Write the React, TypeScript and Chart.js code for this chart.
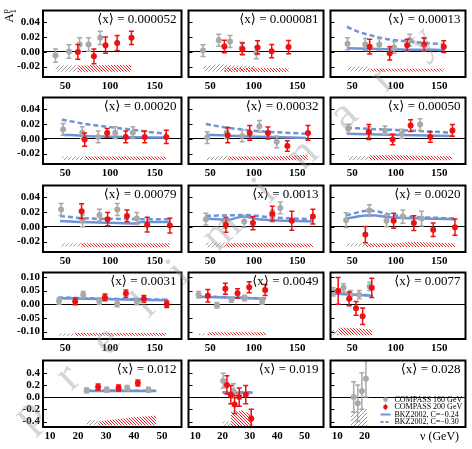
import React, { useEffect, useRef } from "react";
import { Chart, registerables } from "chart.js";
Chart.register(...registerables);

type P3 = [number, number, number];
type P2 = [number, number];

// ---- tick labels ----
const Y_TICKS_A = [-0.02, 0, 0.02, 0.04];
const Y_TICKS_B = [-0.1, -0.05, 0, 0.05, 0.1];
const Y_TICKS_C = [-0.4, -0.2, 0, 0.2, 0.4];
const X_TICKS_NU = [50, 100, 150];
const X_TICKS_LOW = [10, 20, 30, 40, 50];
const X_TICKS_LAST = [10, 20];

const PANEL_X = [
  "0.000052", "0.000081", "0.00013",
  "0.00020", "0.00032", "0.00050",
  "0.00079", "0.0013", "0.0020",
  "0.0031", "0.0049", "0.0077",
  "0.012", "0.019", "0.028",
];

// ---- data: [nu, A1, err] ; lines [nu, A1] ; bands [nu, lo, hi] ----
const p1Gray: P3[] = [[39, -0.005, 0.009], [54, 0.0005, 0.009], [66, 0.010, 0.009], [76, 0.010, 0.009], [89, 0.019, 0.009]];
const p1Red: P3[] = [[64, 0.000, 0.010], [82, -0.006, 0.010], [95, 0.009, 0.011], [108, 0.012, 0.010], [124, 0.019, 0.009]];
const p1Solid: P2[] = [];
const p1Dash: P2[] = [];
const p1GrayBand: P3[] = [[39, -0.027, -0.018], [64, -0.027, -0.018]];
const p1RedBand: P3[] = [[64, -0.027, -0.0185], [90, -0.027, -0.018], [124, -0.027, -0.0175]];

const p2Gray: P3[] = [[41.7, 0.0017, 0.008], [59.7, 0.0157, 0.008], [72.7, 0.014, 0.008], [86, 0.005, 0.008], [102.9, -0.0013, 0.008]];
const p2Red: P3[] = [[66.2, 0.0074, 0.0085], [87, 0.004, 0.008], [104.3, 0.006, 0.009], [120.5, 0.001, 0.009], [139.9, 0.0065, 0.009]];
const p2Solid: P2[] = [];
const p2Dash: P2[] = [];
const p2GrayBand: P3[] = [[42, -0.0265, -0.0195], [52, -0.0265, -0.018], [60, -0.0265, -0.0165], [75, -0.0265, -0.018], [102, -0.0265, -0.019]];
const p2RedBand: P3[] = [[66, -0.0272, -0.0215], [100, -0.0272, -0.0215], [140, -0.0272, -0.022]];

const p3Gray: P3[] = [[44.5, 0.011, 0.008], [65, 0.010, 0.008], [81, 0.010, 0.008], [98, 0.006, 0.008], [116, 0.016, 0.008], [132.5, 0.010, 0.008]];
const p3Red: P3[] = [[70, 0.007, 0.010], [93, -0.002, 0.009], [113, 0.009, 0.008], [132.5, 0.010, 0.009], [155, 0.007, 0.008]];
const p3Solid: P2[] = [[44, 0.0048], [80, 0.0038], [120, 0.003], [155, 0.0026]];
const p3Dash: P2[] = [[44, 0.034], [55, 0.028], [67.5, 0.0235], [86, 0.018], [115, 0.014], [135, 0.012], [155, 0.0104]];
const p3GrayBand: P3[] = [[44.5, -0.0265, -0.020], [70, -0.0265, -0.020]];
const p3RedBand: P3[] = [[70, -0.0265, -0.023], [155, -0.0265, -0.023]];

const p4Gray: P3[] = [[47.5, 0.0128, 0.008], [69, 0.0084, 0.008], [86.7, 0.0026, 0.008], [105.8, 0.0084, 0.008], [125.5, 0.0084, 0.008]];
const p4Red: P3[] = [[71.6, -0.001, 0.009], [96.8, 0.008, 0.006], [117.6, 0.0026, 0.008], [138.8, 0.0026, 0.008], [163, 0.0026, 0.009]];
const p4Solid: P2[] = [[46, 0.0057], [72, 0.004], [100, 0.003], [125, 0.0022], [163, 0.0018]];
const p4Dash: P2[] = [[46, 0.026], [72, 0.0203], [100, 0.0159], [125, 0.0124], [150, 0.0085], [163, 0.007]];
const p4GrayBand: P3[] = [[46, -0.0285, -0.024], [71.6, -0.0285, -0.024]];
const p4RedBand: P3[] = [[71.6, -0.0285, -0.024], [163, -0.0285, -0.024]];

const p5Gray: P3[] = [[46.5, 0.0018, 0.008], [68.8, 0.0084, 0.008], [86.6, 0.004, 0.008], [106.4, 0.017, 0.008], [126.3, -0.004, 0.008]];
const p5Red: P3[] = [[70, 0.0049, 0.010], [95.3, 0.008, 0.010], [116.2, 0.008, 0.008], [138.5, -0.0097, 0.007], [162.2, 0.008, 0.010]];
const p5Solid: P2[] = [[45, 0.0057], [70, 0.0045], [105, 0.003], [160, 0.0013]];
const p5Dash: P2[] = [[45, 0.020], [70, 0.015], [105, 0.0106], [160, 0.007]];
const p5GrayBand: P3[] = [[46, -0.0285, -0.025], [60, -0.0285, -0.024], [70, -0.0285, -0.0225]];
const p5RedBand: P3[] = [[70, -0.029, -0.024], [120, -0.029, -0.024], [150, -0.029, -0.0225], [162, -0.029, -0.021]];

const p6Gray: P3[] = [[45.4, 0.0137, 0.006], [69, 0.0093, 0.007], [87.5, 0.0115, 0.006], [107, 0.007, 0.006], [127.9, 0.0194, 0.008]];
const p6Red: P3[] = [[69, 0.0093, 0.010], [96.4, -0.0009, 0.007], [117, 0.018, 0.008], [139.6, 0.0026, 0.007], [165, 0.0115, 0.008]];
const p6Solid: P2[] = [[44, 0.007], [80, 0.0058], [120, 0.005], [165, 0.004]];
const p6Dash: P2[] = [[44, 0.015], [80, 0.013], [120, 0.011], [165, 0.0085]];
const p6GrayBand: P3[] = [[45, -0.0285, -0.0235], [69, -0.0285, -0.0235]];
const p6RedBand: P3[] = [[69, -0.029, -0.022], [100, -0.029, -0.022], [165, -0.029, -0.0235]];

const p7Gray: P3[] = [[45.3, 0.0235, 0.008], [69.3, 0.0083, 0.008], [88.2, 0.016, 0.008], [108.2, 0.0235, 0.008], [130, 0.0113, 0.008]];
const p7Red: P3[] = [[68.2, 0.0213, 0.010], [97.3, 0.0104, 0.009], [119, 0.0148, 0.008], [141.6, 0.003, 0.010], [167, 0.0017, 0.010]];
const p7Solid: P2[] = [[44, 0.008], [60, 0.007], [100, 0.0055], [128, 0.0045], [135, 0.0065], [167, 0.0065]];
const p7Dash: P2[] = [[44, 0.0148], [70, 0.0117], [100, 0.011], [150, 0.0104], [167, 0.0104]];
const p7GrayBand: P3[] = [[45, -0.0265, -0.022], [68, -0.0265, -0.022]];
const p7RedBand: P3[] = [[68, -0.0277, -0.0222], [167, -0.0277, -0.0222]];

const p8Gray: P3[] = [[45, 0.0104, 0.008], [67, 0.006, 0.008], [89, 0.0074, 0.008], [121.5, 0.0148, 0.008], [130.4, 0.0257, 0.008]];
const p8Red: P3[] = [[68, 0.0026, 0.010], [99, 0.0052, 0.009], [121.2, 0.0178, 0.010], [143.6, 0.0083, 0.013], [167.8, 0.014, 0.010]];
const p8Solid: P2[] = [[45, 0.0113], [70, 0.0096], [88, 0.014], [105, 0.0104], [168, 0.0074]];
const p8Dash: P2[] = [[45, 0.0148], [88, 0.016], [124, 0.0126], [168, 0.0104]];
const p8GrayBand: P3[] = [[45, -0.0277, -0.021], [68, -0.0277, -0.021]];
const p8RedBand: P3[] = [[68, -0.0277, -0.022], [120, -0.0277, -0.0215], [168, -0.0277, -0.023]];

const p9Gray: P3[] = [[42.9, 0.009, 0.010], [69.6, 0.022, 0.008], [89.3, 0.0083, 0.008], [108, 0.014, 0.009], [129.6, 0.0113, 0.010]];
const p9Red: P3[] = [[65, -0.0104, 0.011], [97.5, 0.0083, 0.010], [120.7, 0.0052, 0.010], [142.9, -0.0039, 0.009], [167.9, -0.0004, 0.011]];
const p9Solid: P2[] = [[43, 0.0113], [70, 0.0157], [98, 0.0126], [168, 0.0104]];
const p9Dash: P2[] = [[43, 0.0157], [70, 0.022], [98, 0.0157], [168, 0.0113]];
const p9GrayBand: P3[] = [[43, -0.0265, -0.022], [65, -0.0265, -0.022]];
const p9RedBand: P3[] = [[65, -0.0272, -0.0222], [100, -0.0272, -0.022], [120, -0.0272, -0.020], [140, -0.0272, -0.021], [168, -0.0272, -0.0225]];

const p10Gray: P3[] = [[43, 0.012, 0.012], [70, 0.035, 0.012], [88, 0.012, 0.012], [108, 0.003, 0.012], [130, 0.010, 0.012]];
const p10Red: P3[] = [[61, 0.0104, 0.012], [94.3, 0.025, 0.012], [117.8, 0.039, 0.013], [137.9, 0.0197, 0.012], [163.5, 0.0, 0.012]];
const p10Solid: P2[] = [[42, 0.022], [100, 0.018], [165, 0.015]];
const p10Dash: P2[] = [[42, 0.025], [100, 0.020], [165, 0.017]];
const p10GrayBand: P3[] = [[43, -0.115, -0.107], [61, -0.115, -0.107]];
const p10RedBand: P3[] = [[61, -0.115, -0.105], [163, -0.115, -0.105]];

const p11Gray: P3[] = [[36.6, 0.035, 0.012], [57.7, -0.0035, 0.010], [74.3, 0.0173, 0.010], [89.4, 0.023, 0.010], [109.5, 0.0104, 0.010]];
const p11Red: P3[] = [[47.2, 0.031, 0.023], [67.3, 0.0566, 0.020], [81.3, 0.040, 0.017], [94.7, 0.0624, 0.020], [113, 0.052, 0.020]];
const p11Solid: P2[] = [[35, 0.0277], [114, 0.0197]];
const p11Dash: P2[] = [[35, 0.029], [114, 0.021]];
const p11GrayBand: P3[] = [[36, -0.113, -0.107], [47, -0.113, -0.107]];
const p11RedBand: P3[] = [[47, -0.113, -0.102], [114, -0.113, -0.102]];

const p12Gray: P3[] = [[28, 0.045, 0.015], [40, 0.060, 0.015], [48, 0.035, 0.015], [58, 0.035, 0.015], [70, 0.065, 0.015]];
const p12Red: P3[] = [[33.8, 0.049, 0.049], [46.4, 0.0197, 0.025], [54.3, -0.015, 0.025], [61.9, -0.044, 0.030], [72.4, 0.060, 0.035]];
const p12Solid: P2[] = [[26.5, 0.039], [73.5, 0.031]];
const p12Dash: P2[] = [[26.5, 0.040], [73.5, 0.032]];
const p12GrayBand: P3[] = [[26, -0.113, -0.098], [34, -0.113, -0.090]];
const p12RedBand: P3[] = [[34, -0.113, -0.085], [50, -0.113, -0.087], [73, -0.113, -0.093]];

const p13Gray: P3[] = [[23.1, 0.11, 0.04], [30.3, 0.12, 0.04], [37.6, 0.15, 0.04], [45.2, 0.12, 0.04]];
const p13Red: P3[] = [[27.2, 0.165, 0.05], [34.5, 0.15, 0.05], [41.4, 0.23, 0.05]];
const p13Solid: P2[] = [[23, 0.10], [48, 0.10]];
const p13Dash: P2[] = [[23, 0.11], [48, 0.105]];
const p13GrayBand: P3[] = [[23, -0.46, -0.38], [27.2, -0.46, -0.38]];
const p13RedBand: P3[] = [[27.2, -0.46, -0.40], [40, -0.46, -0.33], [48, -0.46, -0.30]];

const p14Gray: P3[] = [[20.2, 0.27, 0.12], [24, 0.10, 0.12]];
const p14Red: P3[] = [[21.6, 0.20, 0.15], [23, 0.04, 0.15], [24.4, -0.12, 0.15], [26.1, 0.0, 0.15], [28.5, 0.04, 0.15], [30.5, -0.35, 0.15]];
const p14Solid: P2[] = [[20, 0.07], [31, 0.07]];
const p14Dash: P2[] = [[20, 0.08], [31, 0.08]];
const p14GrayBand: P3[] = [[20, -0.48, -0.40], [23, -0.48, -0.40]];
const p14RedBand: P3[] = [[23, -0.48, -0.25], [27, -0.48, -0.22], [31, -0.48, -0.28]];

const p15Gray: P3[] = [[16, 0.0, 0.25], [17.5, -0.1, 0.3], [19, 0.1, 0.3], [20.5, 0.3, 0.3]];
const p15Red: P3[] = [];
const p15Solid: P2[] = [];
const p15Dash: P2[] = [];
const p15GrayBand: P3[] = [[15, -0.48, -0.2], [21, -0.48, -0.2]];
const p15RedBand: P3[] = [];

const LEGEND_TEXT = ["COMPASS 160 GeV", "COMPASS 200 GeV", "BKZ2002, C=\u22120.24", "BKZ2002, C=\u22120.30"];

const PANELS = [
  [p1Gray, p1Red, p1Solid, p1Dash, p1GrayBand, p1RedBand],
  [p2Gray, p2Red, p2Solid, p2Dash, p2GrayBand, p2RedBand],
  [p3Gray, p3Red, p3Solid, p3Dash, p3GrayBand, p3RedBand],
  [p4Gray, p4Red, p4Solid, p4Dash, p4GrayBand, p4RedBand],
  [p5Gray, p5Red, p5Solid, p5Dash, p5GrayBand, p5RedBand],
  [p6Gray, p6Red, p6Solid, p6Dash, p6GrayBand, p6RedBand],
  [p7Gray, p7Red, p7Solid, p7Dash, p7GrayBand, p7RedBand],
  [p8Gray, p8Red, p8Solid, p8Dash, p8GrayBand, p8RedBand],
  [p9Gray, p9Red, p9Solid, p9Dash, p9GrayBand, p9RedBand],
  [p10Gray, p10Red, p10Solid, p10Dash, p10GrayBand, p10RedBand],
  [p11Gray, p11Red, p11Solid, p11Dash, p11GrayBand, p11RedBand],
  [p12Gray, p12Red, p12Solid, p12Dash, p12GrayBand, p12RedBand],
  [p13Gray, p13Red, p13Solid, p13Dash, p13GrayBand, p13RedBand],
  [p14Gray, p14Red, p14Solid, p14Dash, p14GrayBand, p14RedBand],
  [p15Gray, p15Red, p15Solid, p15Dash, p15GrayBand, p15RedBand],
] as any[];

// ---- layout / style ----
const ROW_YMIN = [-0.034, -0.034, -0.034, -0.127, -0.49];
const ROW_YMAX = [0.056, 0.056, 0.056, 0.116, 0.6];
const ROW_YTICKS = [Y_TICKS_A, Y_TICKS_A, Y_TICKS_A, Y_TICKS_B, Y_TICKS_C];
const ROW_XMIN = [25, 25, 25, 25, 7.5];
const ROW_XMAX = [180, 180, 180, 180, 57];
const PLOT_L = [43, 185, 327];
const PLOT_T = [7, 94, 182, 269, 357];
const PLOT_W = 142;
const PLOT_H = 70;
const XAXIS_H = 18;

const GRAY = "#a9a9a9";
const RED = "#ee1111";
const BLUE = "#7093d6";
const FONT = "'Liberation Serif', 'DejaVu Serif', serif";

function hatch(color: string, dir: number, size: number, lw: number) {
  const c = document.createElement("canvas");
  c.width = size; c.height = size;
  const g = c.getContext("2d")!;
  g.strokeStyle = color; g.lineWidth = lw;
  g.beginPath();
  for (let k = -1; k <= 1; k++) {
    if (dir > 0) { g.moveTo(k * size, size); g.lineTo(k * size + size, 0); }
    else { g.moveTo(k * size, 0); g.lineTo(k * size + size, size); }
  }
  g.stroke();
  return g.createPattern(c, "repeat");
}

const framePlugin = {
  id: "frame",
  afterDatasetsDraw(chart: any, _a: any, opts: any) {
    const { ctx, chartArea: a, scales } = chart;
    ctx.save();
    ctx.strokeStyle = "#000";
    ctx.lineWidth = 1;
    scales.y.ticks.forEach((t: any) => {
      const py = Math.round(scales.y.getPixelForValue(t.value)) + 0.5;
      ctx.beginPath(); ctx.moveTo(a.left, py); ctx.lineTo(a.left + 4, py); ctx.stroke();
    });
    ctx.lineWidth = 2;
    ctx.strokeRect(a.left, a.top, a.right - a.left, a.bottom - a.top);
    ctx.fillStyle = "#000";
    ctx.font = "13px " + FONT;
    ctx.textAlign = "right";
    ctx.textBaseline = "top";
    ctx.fillText("\u27E8x\u27E9 = " + opts.label, a.right - 5, a.top + 3);
    ctx.restore();
  },
};

const legendPlugin = {
  id: "lgd",
  afterDatasetsDraw(chart: any) {
    const { ctx, chartArea: a } = chart;
    ctx.save();
    ctx.font = "8px " + FONT;
    ctx.textAlign = "left";
    ctx.textBaseline = "middle";
    LEGEND_TEXT.forEach((t, k) => {
      const y = a.top + 39 + k * 7.5;
      const x0 = a.left + 50;
      if (k < 2) {
        const col = k === 0 ? GRAY : RED;
        ctx.strokeStyle = col; ctx.fillStyle = col; ctx.lineWidth = 1;
        ctx.beginPath(); ctx.moveTo(x0 + 5, y - 3); ctx.lineTo(x0 + 5, y + 3); ctx.stroke();
        ctx.beginPath(); ctx.arc(x0 + 5, y, 2.3, 0, Math.PI * 2); ctx.fill();
      } else {
        ctx.strokeStyle = BLUE; ctx.lineWidth = 2;
        ctx.setLineDash(k === 3 ? [3, 2] : []);
        ctx.beginPath(); ctx.moveTo(x0, y); ctx.lineTo(x0 + 10, y); ctx.stroke();
        ctx.setLineDash([]);
      }
      ctx.fillStyle = "#000";
      ctx.fillText(t, x0 + 14, y);
    });
    ctx.restore();
  },
};

function buildConfig(i: number, pats: any) {
  const r = Math.floor(i / 3), c = i % 3;
  const [gray, red, solid, dash, gBand, rBand] = PANELS[i];
  const ds: any[] = [];
  const addBand = (band: P3[], pat: any) => {
    if (!band.length) return;
    ds.push({ type: "line", data: band.map((b) => ({ x: b[0], y: b[1] })), borderColor: "transparent", borderWidth: 0, pointRadius: 0, fill: false, order: 20 });
    ds.push({ type: "line", data: band.map((b) => ({ x: b[0], y: b[2] })), borderColor: "transparent", borderWidth: 0, pointRadius: 0, fill: "-1", backgroundColor: pat, order: 20 });
  };
  addBand(gBand, pats.gray);
  addBand(rBand, pats.red);
  const addLine = (pts: P2[], dashArr: number[]) => {
    if (!pts.length) return;
    ds.push({ type: "line", data: pts.map((p) => ({ x: p[0], y: p[1] })), borderColor: BLUE, borderWidth: 2.5, borderDash: dashArr, pointRadius: 0, fill: false, cubicInterpolationMode: "monotone", order: 15 });
  };
  addLine(solid, []);
  addLine(dash, [5, 3]);
  const addPts = (pts: P3[], color: string, order: number) => {
    pts.forEach(([x, y, e]) =>
      ds.push({ type: "line", data: [{ x, y: y - e }, { x, y: y + e }], borderColor: color, borderWidth: 1.5, pointStyle: "line", pointRadius: 2.5, pointBorderWidth: 1.5, pointBorderColor: color, fill: false, order })
    );
    if (pts.length)
      ds.push({ type: "line", showLine: false, data: pts.map(([x, y]) => ({ x, y })), pointStyle: "circle", pointRadius: 3, pointBackgroundColor: color, pointBorderColor: color, pointBorderWidth: 0, order: order - 1 });
  };
  addPts(gray, GRAY, 12);
  addPts(red, RED, 10);

  const xt = r < 4 ? X_TICKS_NU : i === 14 ? X_TICKS_LAST : X_TICKS_LOW;
  const tickFont = { family: FONT, size: 11, weight: "bold" as const };
  return {
    type: "line",
    data: { datasets: ds },
    options: {
      animation: false,
      responsive: false,
      devicePixelRatio: 1,
      events: [],
      layout: { padding: { left: c === 0 ? 0 : 2, top: 2, right: 2, bottom: 0 } },
      plugins: { legend: { display: false }, tooltip: { enabled: false }, frame: { label: PANEL_X[i] } },
      scales: {
        x: {
          type: "linear",
          min: ROW_XMIN[r],
          max: ROW_XMAX[r],
          afterBuildTicks: (s: any) => { s.ticks = xt.map((v) => ({ value: v })); },
          afterFit: (s: any) => { s.height = XAXIS_H; s.paddingLeft = 0; s.paddingRight = 0; },
          grid: { display: false, drawTicks: false },
          border: { display: false },
          ticks: { font: tickFont, color: "#000", padding: 3, maxRotation: 0, autoSkip: false, callback: (v: any) => String(v) },
        },
        y: {
          type: "linear",
          min: ROW_YMIN[r],
          max: ROW_YMAX[r],
          afterBuildTicks: (s: any) => { s.ticks = ROW_YTICKS[r].map((v) => ({ value: v })); },
          afterFit: (s: any) => { s.width = c === 0 ? PLOT_L[0] : 0; s.paddingTop = 0; s.paddingBottom = 0; },
          grid: { color: (ctx: any) => (ctx.tick && ctx.tick.value === 0 ? "#000" : "rgba(0,0,0,0)"), lineWidth: 1, drawTicks: false },
          border: { display: false },
          ticks: { display: c === 0, font: tickFont, color: "#000", padding: 3, callback: (v: any) => Number(v).toFixed(r === 4 ? 1 : 2) },
        },
      },
    },
    plugins: i === 14 ? [framePlugin, legendPlugin] : [framePlugin],
  } as any;
}

export default function App() {
  const refs = useRef<(HTMLCanvasElement | null)[]>([]);
  useEffect(() => {
    const pats = { gray: hatch("#9a9a9a", 1, 4, 1), red: hatch("#ee2222", -1, 3, 1) };
    const charts = PANELS.map((_: any, i: number) => new Chart(refs.current[i]!, buildConfig(i, pats)));
    return () => charts.forEach((ch: any) => ch.destroy());
  }, []);

  const cells = PANELS.map((_: any, i: number) => {
    const r = Math.floor(i / 3), c = i % 3;
    const left = c === 0 ? 0 : PLOT_L[c] - 2;
    const w = (c === 0 ? PLOT_L[0] : 2) + PLOT_W + 2;
    const top = PLOT_T[r] - 2;
    const h = 2 + PLOT_H + XAXIS_H;
    return (
      <canvas
        key={i}
        ref={(el) => { refs.current[i] = el; }}
        width={w}
        height={h}
        style={{ position: "absolute", left, top, width: w, height: h }}
      />
    );
  });

  return (
    <div style={{ position: "absolute", left: 0, top: 0, width: 472, height: 449, background: "#fff", overflow: "hidden", fontFamily: FONT }}>
      {cells}
      <div style={{ position: "absolute", left: 2, top: 4, width: 16, height: 30 }}>
        <span style={{ position: "absolute", left: 8, top: 12, transform: "translate(-50%,-50%) rotate(-90deg)", whiteSpace: "nowrap", fontSize: 13, lineHeight: 1 }}>
          A<sub style={{ fontSize: 8 }}>1</sub><sup style={{ fontSize: 8, marginLeft: -4 }}>p</sup>
        </span>
      </div>
      <div style={{ position: "absolute", left: 420, top: 429, fontSize: 12, whiteSpace: "nowrap" }}>ν (GeV)</div>
      <div
        style={{
          position: "absolute", left: 236, top: 214,
          transform: "translate(-50%,-50%) rotate(-43.5deg)",
          whiteSpace: "nowrap", fontSize: 46, color: "rgba(150,150,150,0.4)",
          letterSpacing: 35, pointerEvents: "none", fontFamily: FONT,
        }}
      >
        preliminary
      </div>
    </div>
  );
}
